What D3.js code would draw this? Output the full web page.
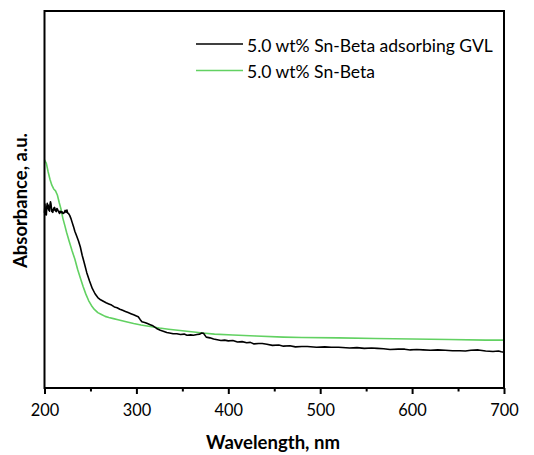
<!DOCTYPE html>
<html><head><meta charset="utf-8">
<script src="https://cdn.jsdelivr.net/npm/d3@7"></script>
<style>body{margin:0;background:#fff}svg{display:block}text{font-family:Lato,"Open Sans",sans-serif;fill:#000}</style>
</head><body><svg id="c" width="534" height="455"></svg>
<script>
const xTicks = [200, 300, 400, 500, 600, 700];
const xMinorTicks = [250, 350, 450, 550, 650];
const seriesNames = ["5.0 wt% Sn-Beta adsorbing GVL", "5.0 wt% Sn-Beta"];
const seriesColors = ["#000000", "#62d162"];
const xLabel = "Wavelength, nm";
const yLabel = "Absorbance, a.u.";

const gvlWavelength = [200,200.5,201,201.5,202,202.5,203,203.5,204,204.5,205,205.5,206,206.5,207,207.5,208,208.5,209,210,210.5,211,212,212.7,213.5,214.1,215,216.3,217,218,218.9,220,221.4,222.5,223.5,224.4,225.2,226.1,227.4,228.7,230,231.6,233,235,237,239,241,243,246,249,252,255,258,261,264,267,270,273,276,279,282,285,288,291,294,297,300,302,304,306,309,312,315,318,322,326,330,333,336,340,344,348,352,355,359,362,366,369,371,373,376,380,384,388,392,396,400,405,410,415,420,424,428,433,437,442,448,455,460,467,473,480,486,496,505,512,520,532,540,548,556,562,569,576,585,592,598,605,612,620,628,636,644,652,658,664,672,680,688,694,697,700];
const gvlAbs = [46.5,48.8,46.0,47.5,45.9,48.2,49.0,47.6,48.5,47.2,48.1,46.9,48.7,49.4,48.9,47.8,46.8,47.3,46.6,47.7,47.2,47.9,47.0,46.8,47.6,47.4,46.9,46.3,46.9,46.5,46.8,46.3,46.5,47.1,46.6,47.2,46.4,46.3,45.8,45.0,44.0,42.8,41.6,40.3,39.0,37.4,35.2,33.4,30.6,28.4,26.4,25.0,24.0,23.4,23.0,22.6,22.3,22.0,21.5,21.3,20.9,20.6,20.3,20.0,19.7,19.4,19.1,18.9,18.2,17.6,17.4,17.1,16.8,16.5,15.8,15.3,15.0,14.7,14.6,14.4,14.4,14.2,14.3,14.0,14.1,14.0,14.2,14.3,14.6,14.5,13.5,13.3,13.0,12.8,12.6,12.7,12.5,12.6,12.2,12.3,12.0,12.1,11.7,11.8,11.8,11.6,11.3,11.4,11.1,11.2,10.9,11.0,11.0,10.8,10.9,10.8,10.8,10.6,10.7,10.5,10.6,10.5,10.4,10.2,10.3,10.3,10.1,10.2,10.1,10.0,10.1,10.0,9.9,9.9,9.8,10.0,10.1,9.8,9.7,9.8,9.6,9.5,9.6,9.4,9.2];

const snWavelength = [200,202,204,206,208,210,212,214,216,218,220,222,224,227,230,233,236,239,242,245,248,251,254,258,262,266,270,275,280,290,297,305,315,325,335,350,365,372,385,405,430,460,480,520,560,600,640,680,700];
const snAbs = [60.5,59.6,57.3,55.3,53.8,52.8,52.3,51.2,49.2,47.4,45.0,43.2,41.3,38.8,36.4,34.2,31.5,29.2,26.9,24.9,23.2,21.9,20.9,20.0,19.5,19.0,18.7,18.4,18.1,17.5,17.1,16.7,16.3,15.9,15.6,15.2,14.8,14.6,14.3,14.05,13.8,13.5,13.4,13.3,13.15,13.0,12.85,12.7,12.7];

const svg = d3.select("#c");
const L = 44.5, R = 504, T = 11, B = 388;
const x = d3.scaleLinear().domain([200, 700]).range([L, R]);
const y = d3.scaleLinear().domain([0, 100]).range([B, T]);

function fit(sel, w) {
  const n = sel.node();
  const fs = parseFloat(n.style.fontSize);
  const cur = n.getComputedTextLength();
  if (cur > 0) sel.style("font-size", (fs * w / cur).toFixed(2) + "px");
}

const gvl = gvlWavelength.map((w, i) => [w, gvlAbs[i]]);
const sn = snWavelength.map((w, i) => [w, snAbs[i]]);
const line = d3.line().x(d => x(d[0])).y(d => y(d[1]));

svg.append("path").datum(sn).attr("d", line).attr("fill", "none")
  .attr("stroke", seriesColors[1]).attr("stroke-width", 1.6).attr("stroke-linejoin", "round");
svg.append("path").datum(gvl).attr("d", line).attr("fill", "none")
  .attr("stroke", seriesColors[0]).attr("stroke-width", 1.6).attr("stroke-linejoin", "round");

svg.append("rect").attr("x", L).attr("y", T).attr("width", R - L).attr("height", B - T)
  .attr("fill", "none").attr("stroke", "#000").attr("stroke-width", 2);

const ax = svg.append("g").attr("transform", `translate(0,${B})`)
  .call(d3.axisBottom(x).tickValues(xTicks).tickSize(6).tickPadding(10).tickFormat(d3.format("d")));
ax.select(".domain").remove();
ax.selectAll("line").attr("stroke-width", 2);
ax.selectAll("text").attr("font-family", null).style("font-size", "17px").style("fill", "#000");
ax.selectAll("text").each(function () { fit(d3.select(this), 28.5); });
const axm = svg.append("g").attr("transform", `translate(0,${B})`)
  .call(d3.axisBottom(x).tickValues(xMinorTicks).tickSize(3.5).tickFormat(""));
axm.select(".domain").remove();
axm.selectAll("line").attr("stroke-width", 2);

const xl = svg.append("text").attr("x", 273).attr("y", 449).attr("text-anchor", "middle")
  .style("font-size", "17px").style("font-weight", "bold").text(xLabel);
fit(xl, 134);
const yl = svg.append("text").attr("transform", "translate(27,200.5) rotate(-90)").attr("text-anchor", "middle")
  .style("font-size", "16px").style("font-weight", "bold").text(yLabel);
fit(yl, 135);

const leg = svg.append("g");
const legW = [246, 128];
[44, 70.5].forEach((ly, i) => {
  leg.append("line").attr("x1", 196).attr("x2", 243).attr("y1", ly).attr("y2", ly)
    .attr("stroke", seriesColors[i]).attr("stroke-width", 1.6);
  const t = leg.append("text").attr("x", 247).attr("y", ly + 7.5).style("font-size", "17px").text(seriesNames[i]);
  fit(t, legW[i]);
});
</script></body></html>
